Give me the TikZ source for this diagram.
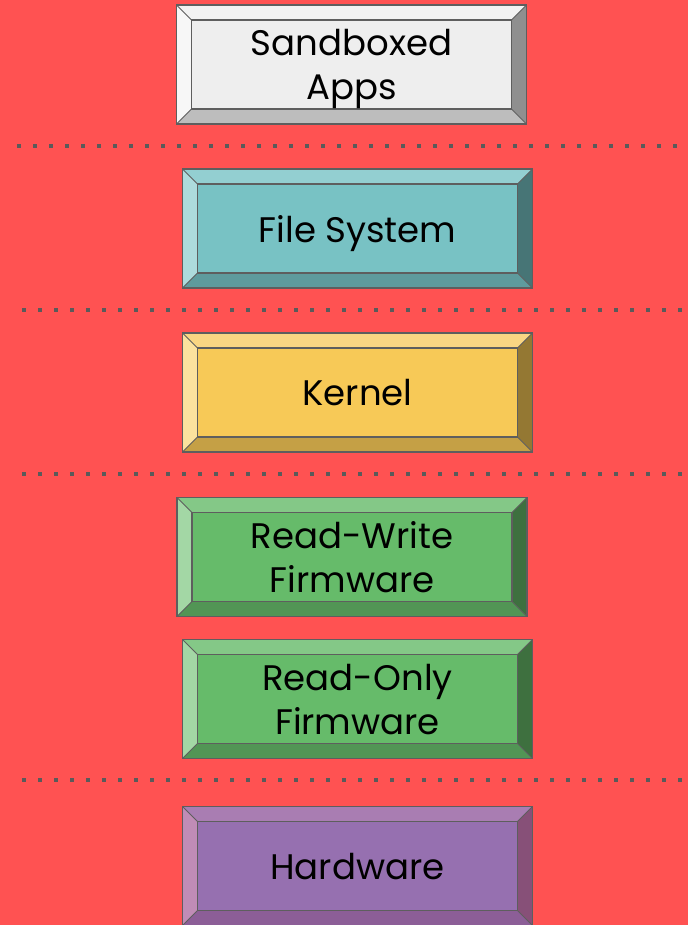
\documentclass[tikz,border=0pt]{standalone}
\usepackage{fontspec}
\setmainfont{Poppins}
\usetikzlibrary{positioning}

\definecolor{bgred}{HTML}{FF5252}
\definecolor{edge}{HTML}{5E5E5E}
\definecolor{dots}{HTML}{5A5A5A}
% face, top, left, right, bottom of each layer
\definecolor{appF}{HTML}{EEEEEE}\definecolor{appT}{HTML}{F2F2F2}\definecolor{appL}{HTML}{F7F7F7}\definecolor{appR}{HTML}{8F8F8F}\definecolor{appB}{HTML}{BDBDBD}
\definecolor{fsF}{HTML}{78C2C4}\definecolor{fsT}{HTML}{93CFD1}\definecolor{fsL}{HTML}{ADDBDC}\definecolor{fsR}{HTML}{477576}\definecolor{fsB}{HTML}{5E9B9D}
\definecolor{krF}{HTML}{F7C957}\definecolor{krT}{HTML}{F9D683}\definecolor{krL}{HTML}{FBE29E}\definecolor{krR}{HTML}{947833}\definecolor{krB}{HTML}{C5A045}
\definecolor{fwF}{HTML}{66BB6A}\definecolor{fwT}{HTML}{84C887}\definecolor{fwL}{HTML}{A3D7A5}\definecolor{fwR}{HTML}{3E703F}\definecolor{fwB}{HTML}{529555}
\definecolor{hwF}{HTML}{9670B0}\definecolor{hwT}{HTML}{A97DB2}\definecolor{hwL}{HTML}{C08CB6}\definecolor{hwR}{HTML}{875078}\definecolor{hwB}{HTML}{8C5E97}

\begin{document}
\begin{tikzpicture}[
  x=1pt, y=-1pt,
  font=\fontsize{35.5}{44}\selectfont,
  layer/.style={rectangle, draw=edge, line width=1.3pt, fill=#1F,
                minimum width=350pt, minimum height=119pt, inner sep=0pt, align=center,
                text depth=0pt,
                path picture={
                  \fill[#1T] (path picture bounding box.north west) -- (path picture bounding box.north east)
                    -- ([shift={(-15pt,-15pt)}]path picture bounding box.north east)
                    -- ([shift={(15pt,-15pt)}]path picture bounding box.north west) -- cycle;
                  \fill[#1L] (path picture bounding box.north west) -- (path picture bounding box.south west)
                    -- ([shift={(15pt,15pt)}]path picture bounding box.south west)
                    -- ([shift={(15pt,-15pt)}]path picture bounding box.north west) -- cycle;
                  \fill[#1R] (path picture bounding box.north east) -- (path picture bounding box.south east)
                    -- ([shift={(-15pt,15pt)}]path picture bounding box.south east)
                    -- ([shift={(-15pt,-15pt)}]path picture bounding box.north east) -- cycle;
                  \fill[#1B] (path picture bounding box.south west) -- (path picture bounding box.south east)
                    -- ([shift={(-15pt,15pt)}]path picture bounding box.south east)
                    -- ([shift={(15pt,15pt)}]path picture bounding box.south west) -- cycle;
                  \draw[edge, line width=1.3pt]
                    ([shift={(15pt,-15pt)}]path picture bounding box.north west) rectangle
                    ([shift={(-15pt,15pt)}]path picture bounding box.south east);
                  \draw[edge, line width=1pt]
                    (path picture bounding box.north west) -- ++(15pt,-15pt)
                    (path picture bounding box.north east) -- ++(-15pt,-15pt)
                    (path picture bounding box.south west) -- ++(15pt,15pt)
                    (path picture bounding box.south east) -- ++(-15pt,15pt);
                }},
  sep/.style={dots, line width=4pt, dash pattern=on 4pt off 12pt}
]
\fill[bgred] (0,0) rectangle (688,925);
\useasboundingbox (0,0) rectangle (688,925);

\node[layer=app] (apps)   at (351.5, 64.5) {Sandboxed\\Apps};
\node[layer=fs]  (fs)     at (357.5,228.5) {File System};
\node[layer=kr]  (kernel) at (357.5,392.5) {Kernel};
\node[layer=fw]  (rwfw)   at (352,  557)   {Read-Write\\Firmware};
\node[layer=fw]  (rofw)   at (357.5,699)   {Read-Only\\Firmware};
\node[layer=hw]  (hw)     at (357.5,866)   {Hardware};

% separators between the layers
\draw[sep] (17,146) -- (688,146);
\draw[sep] (22,310) -- (688,310);
\draw[sep] (22,474) -- (688,474);
\draw[sep] (22,780) -- (688,780);
\end{tikzpicture}
\end{document}
